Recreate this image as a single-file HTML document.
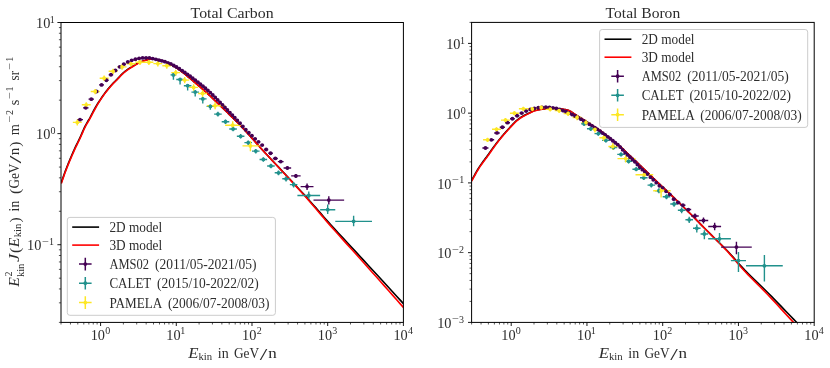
<!DOCTYPE html>
<html lang="en"><head><meta charset="utf-8"><title>Total Carbon / Total Boron</title>
<style>html,body{margin:0;padding:0;background:#fff}body{width:830px;height:368px;overflow:hidden;font-family:"Liberation Serif", serif}svg{display:block;will-change:transform}text{font-family:"Liberation Serif", serif;fill:#2d2d2d}</style>
</head><body>
<svg width="830" height="368" viewBox="0 0 830 368">
<rect width="830" height="368" fill="#fff"/>
<clipPath id="clipL"><rect x="61" y="22.5" width="342.4" height="299.9"/></clipPath>
<clipPath id="clipR"><rect x="471.6" y="22.4" width="342.6" height="300"/></clipPath>
<g clip-path="url(#clipL)">
<path d="M61.3 182.6 L61.75 181.29 L62.38 179.46 L63.12 177.3 L63.92 174.99 L64.73 172.69 L65.5 170.6 L66.23 168.69 L66.96 166.82 L67.7 164.97 L68.45 163.13 L69.22 161.27 L70 159.4 L70.8 157.49 L71.63 155.54 L72.47 153.59 L73.31 151.66 L74.16 149.75 L75 147.9 L75.83 146.12 L76.67 144.41 L77.5 142.73 L78.33 141.06 L79.17 139.35 L80 137.6 L80.83 135.76 L81.67 133.84 L82.5 131.91 L83.33 129.99 L84.17 128.14 L85 126.4 L85.83 124.8 L86.67 123.31 L87.5 121.89 L88.33 120.5 L89.17 119.08 L90 117.6 L90.83 116.04 L91.67 114.43 L92.5 112.8 L93.33 111.18 L94.17 109.6 L95 108.1 L95.82 106.69 L96.63 105.34 L97.44 104.04 L98.26 102.75 L99.11 101.44 L100 100.1 L100.94 98.7 L101.91 97.27 L102.91 95.82 L103.93 94.39 L104.97 92.97 L106 91.6 L107.07 90.24 L108.18 88.88 L109.3 87.54 L110.4 86.26 L111.44 85.07 L112.4 84 L113.23 83.1 L113.96 82.36 L114.63 81.71 L115.3 81.08 L116 80.4 L116.8 79.6 L117.7 78.65 L118.68 77.59 L119.69 76.49 L120.72 75.39 L121.73 74.34 L122.7 73.4 L123.6 72.59 L124.44 71.86 L125.27 71.19 L126.11 70.55 L127.01 69.89 L128 69.2 L129.12 68.44 L130.35 67.65 L131.63 66.84 L132.91 66.06 L134.12 65.34 L135.2 64.71 L136.13 64.17 L136.96 63.71 L137.72 63.31 L138.46 62.94 L139.2 62.59 L140 62.23 L140.85 61.87 L141.72 61.51 L142.6 61.16 L143.48 60.83 L144.35 60.54 L145.2 60.27 L146.02 60.04 L146.82 59.84 L147.61 59.66 L148.4 59.51 L149.19 59.39 L150 59.3 L150.82 59.24 L151.65 59.22 L152.49 59.23 L153.33 59.26 L154.16 59.32 L155 59.4 L155.83 59.51 L156.67 59.65 L157.5 59.81 L158.33 60 L159.17 60.19 L160 60.4 L160.82 60.61 L161.63 60.82 L162.44 61.04 L163.26 61.29 L164.11 61.57 L165 61.9 L165.94 62.27 L166.9 62.66 L167.9 63.09 L168.92 63.56 L169.95 64.06 L171 64.6 L172.07 65.18 L173.16 65.81 L174.27 66.47 L175.39 67.16 L176.5 67.87 L177.6 68.6 L178.68 69.35 L179.76 70.13 L180.83 70.93 L181.9 71.75 L182.95 72.57 L184 73.4 L185.03 74.23 L186.05 75.07 L187.06 75.92 L188.06 76.77 L189.08 77.63 L190.1 78.5 L191.14 79.37 L192.19 80.25 L193.24 81.13 L194.29 82.02 L195.35 82.91 L196.4 83.8 L197.45 84.69 L198.5 85.59 L199.56 86.48 L200.61 87.38 L201.66 88.29 L202.7 89.2 L203.74 90.12 L204.78 91.04 L205.81 91.97 L206.84 92.9 L207.87 93.85 L208.9 94.8 L209.92 95.76 L210.93 96.74 L211.94 97.72 L212.96 98.71 L213.97 99.71 L215 100.7 L216.04 101.69 L217.09 102.69 L218.14 103.69 L219.19 104.69 L220.25 105.69 L221.3 106.7 L222.35 107.71 L223.4 108.72 L224.45 109.74 L225.5 110.76 L226.55 111.78 L227.6 112.8 L228.65 113.83 L229.71 114.86 L230.76 115.9 L231.81 116.94 L232.86 117.97 L233.9 119 L234.88 119.97 L235.8 120.86 L236.72 121.76 L237.69 122.71 L238.76 123.81 L240 125.1 L241.41 126.6 L242.95 128.26 L244.6 130.06 L246.34 131.96 L248.14 133.95 L250 136 L251.9 138.12 L253.86 140.33 L255.89 142.63 L258 145 L260.2 147.46 L262.5 150 L264.97 152.68 L267.63 155.53 L270.37 158.46 L273.12 161.38 L275.79 164.22 L278.3 166.9 L280.63 169.39 L282.86 171.75 L285 174.03 L287.1 176.26 L289.19 178.49 L291.3 180.75 L293.41 183.01 L295.47 185.22 L297.53 187.43 L299.6 189.67 L301.72 191.97 L303.9 194.36 L306.18 196.88 L308.53 199.51 L310.92 202.2 L313.33 204.91 L315.7 207.59 L318 210.19 L320.09 212.58 L321.97 214.76 L323.81 216.9 L325.81 219.21 L328.15 221.85 L331 225.03 L334.5 228.85 L338.51 233.2 L342.87 237.9 L347.37 242.74 L351.85 247.56 L356.1 252.15 L360.16 256.54 L364.17 260.88 L368.16 265.19 L372.11 269.48 L376.06 273.76 L380 278.04 L384.12 282.53 L388.46 287.26 L392.78 291.99 L396.86 296.45 L400.48 300.4 L403.4 303.6 L405.55 305.95 L407.09 307.64 L408.16 308.82 L408.91 309.65 L409.48 310.28 L410 310.85" fill="none" stroke="#000" stroke-width="1.6" stroke-linejoin="round"/>
<path d="M61.3 183.5 L61.75 182.19 L62.38 180.36 L63.12 178.2 L63.92 175.89 L64.73 173.59 L65.5 171.5 L66.23 169.59 L66.96 167.72 L67.7 165.87 L68.45 164.03 L69.22 162.17 L70 160.3 L70.8 158.39 L71.63 156.44 L72.47 154.49 L73.31 152.56 L74.16 150.65 L75 148.8 L75.83 147.02 L76.67 145.31 L77.5 143.63 L78.33 141.96 L79.17 140.25 L80 138.5 L80.83 136.66 L81.67 134.74 L82.5 132.81 L83.33 130.89 L84.17 129.04 L85 127.3 L85.83 125.7 L86.67 124.21 L87.5 122.79 L88.33 121.4 L89.17 119.98 L90 118.5 L90.83 116.95 L91.67 115.35 L92.5 113.73 L93.33 112.12 L94.17 110.53 L95 109 L95.82 107.53 L96.63 106.09 L97.44 104.69 L98.26 103.3 L99.11 101.91 L100 100.5 L100.94 99.07 L101.91 97.63 L102.91 96.19 L103.93 94.77 L104.97 93.36 L106 92 L107.07 90.64 L108.18 89.28 L109.3 87.94 L110.4 86.66 L111.44 85.47 L112.4 84.4 L113.23 83.5 L113.96 82.76 L114.63 82.11 L115.3 81.48 L116 80.8 L116.8 80 L117.7 79.05 L118.68 77.99 L119.69 76.89 L120.72 75.79 L121.73 74.74 L122.7 73.8 L123.6 72.99 L124.44 72.26 L125.27 71.59 L126.11 70.95 L127.01 70.29 L128 69.6 L129.12 68.85 L130.35 68.05 L131.63 67.25 L132.91 66.47 L134.12 65.74 L135.2 65.1 L136.13 64.55 L136.96 64.07 L137.72 63.65 L138.46 63.26 L139.2 62.88 L140 62.5 L140.85 62.11 L141.72 61.73 L142.6 61.36 L143.48 61.01 L144.35 60.69 L145.2 60.4 L146.02 60.14 L146.82 59.91 L147.61 59.71 L148.4 59.54 L149.19 59.4 L150 59.3 L150.82 59.24 L151.65 59.21 L152.49 59.22 L153.33 59.26 L154.16 59.32 L155 59.4 L155.83 59.51 L156.67 59.65 L157.5 59.81 L158.33 60 L159.17 60.19 L160 60.4 L160.82 60.61 L161.63 60.82 L162.44 61.04 L163.26 61.29 L164.11 61.57 L165 61.9 L165.94 62.27 L166.9 62.66 L167.9 63.09 L168.92 63.56 L169.95 64.06 L171 64.6 L172.07 65.18 L173.16 65.81 L174.27 66.47 L175.39 67.16 L176.5 67.87 L177.6 68.6 L178.68 69.35 L179.76 70.13 L180.83 70.93 L181.9 71.75 L182.95 72.57 L184 73.4 L185.03 74.23 L186.05 75.07 L187.06 75.92 L188.06 76.77 L189.08 77.63 L190.1 78.5 L191.14 79.37 L192.19 80.25 L193.24 81.13 L194.29 82.02 L195.35 82.91 L196.4 83.8 L197.45 84.69 L198.5 85.59 L199.56 86.48 L200.61 87.38 L201.66 88.29 L202.7 89.2 L203.74 90.12 L204.78 91.04 L205.81 91.97 L206.84 92.9 L207.87 93.85 L208.9 94.8 L209.92 95.76 L210.93 96.74 L211.94 97.72 L212.96 98.71 L213.97 99.71 L215 100.7 L216.04 101.69 L217.09 102.69 L218.14 103.69 L219.19 104.69 L220.25 105.69 L221.3 106.7 L222.35 107.71 L223.4 108.72 L224.45 109.74 L225.5 110.76 L226.55 111.78 L227.6 112.8 L228.65 113.83 L229.71 114.86 L230.76 115.9 L231.81 116.94 L232.86 117.97 L233.9 119 L234.88 119.97 L235.8 120.86 L236.72 121.76 L237.69 122.71 L238.76 123.81 L240 125.1 L241.41 126.6 L242.95 128.26 L244.6 130.06 L246.34 131.96 L248.14 133.95 L250 136 L251.9 138.12 L253.86 140.33 L255.89 142.62 L258 145 L260.2 147.46 L262.5 150 L264.97 152.69 L267.63 155.55 L270.37 158.49 L273.12 161.44 L275.79 164.3 L278.3 167 L280.63 169.52 L282.86 171.92 L285 174.24 L287.1 176.52 L289.19 178.8 L291.3 181.1 L293.41 183.4 L295.47 185.66 L297.53 187.92 L299.6 190.2 L301.72 192.55 L303.9 195 L306.18 197.58 L308.53 200.27 L310.92 203.02 L313.33 205.79 L315.7 208.53 L318 211.2 L320.09 213.64 L321.97 215.87 L323.81 218.07 L325.81 220.43 L328.15 223.14 L331 226.4 L334.5 230.33 L338.51 234.8 L342.87 239.63 L347.37 244.62 L351.85 249.57 L356.1 254.3 L360.16 258.82 L364.17 263.3 L368.16 267.74 L372.11 272.17 L376.06 276.58 L380 281 L384.12 285.64 L388.46 290.52 L392.78 295.4 L396.86 300.01 L400.48 304.1 L403.4 307.4 L405.55 309.83 L407.09 311.58 L408.16 312.8 L408.91 313.66 L409.48 314.3 L410 314.9" fill="none" stroke="#f00" stroke-width="1.6" stroke-linejoin="round"/>
<path d="M77.04 119.66H82.96M80.02 118.76V120.56M82.96 107.85H88.55M85.78 106.95V108.75M88.55 99.13H94M91.29 98.23V100.03M94 91.5H99.09M96.56 90.6V92.4M99.09 84.88H104M101.56 83.98V85.78M104 80.22H108.7M106.37 79.32V81.12M108.7 74.75H113.19M110.96 73.85V75.65M113.19 70.51H117.56M115.39 69.61V71.41M117.56 66.84H121.79M119.69 65.94V67.74M121.79 64.18H125.87M123.84 63.28V65.08M125.87 61.89H129.78M127.83 60.99V62.79M129.78 60.3H133.59M131.69 59.4V61.2M133.59 59.24H137.29M135.45 58.34V60.14M137.29 58.4H140.86M139.08 57.5V59.3M140.86 57.91H144.36M142.62 57.01V58.81M144.36 57.8H147.75M146.06 56.9V58.7M147.75 57.94H151.05M149.41 57.04V58.84M151.05 58.55H154.37M152.72 57.65V59.45M154.37 59.3H157.4M155.89 58.4V60.2M157.4 60.08H160.43M158.92 59.18V60.98M160.43 60.86H163.46M161.95 59.96V61.76M163.46 61.69H166.45M164.96 60.79V62.59M166.45 62.82H169.4M167.93 61.92V63.72M169.4 63.94H172.3M170.85 63.04V64.84M172.3 65.48H175.13M173.72 64.58V66.38M175.13 67.01H177.89M176.51 66.11V67.91M177.89 68.73H180.73M179.32 67.83V69.63M180.73 70.56H183.48M182.11 69.66V71.46M183.48 72.39H186.14M184.81 71.49V73.29M186.14 74.35H188.82M187.48 73.45V75.25M188.82 76.28H191.41M190.11 75.38V77.18M191.41 78.18H194M192.7 77.28V79.08M194 80.08H196.58M195.29 79.18V80.98M196.58 82.05H199.13M197.85 81.15V82.95M199.13 84.07H201.66M200.39 83.17V84.97M201.66 86.07H204.14M202.9 85.17V86.97M204.14 88.2H206.65M205.4 87.3V89.1M206.65 90.32H209.1M207.87 89.42V91.22M209.1 92.6H211.55M210.32 91.7V93.5M211.55 95.01H213.99M212.77 94.11V95.91M213.99 97.42H216.45M215.22 96.52V98.32M216.45 99.91H218.88M217.66 99.01V100.81M218.88 102.37H221.31M220.09 101.47V103.27M221.31 104.87H223.72M222.51 103.97V105.77M223.72 107.41H226.15M224.94 106.51V108.31M226.15 109.96H228.59M227.37 109.06V110.86M228.59 112.55H231.16M229.87 111.65V113.45M231.16 115.11H233.55M232.36 114.21V116.01M233.55 117.65H236.05M234.8 116.75V118.55M236.05 120.35H238.61M237.33 119.45V121.25M238.61 123.24H241.45M240.03 122.34V124.14M241.45 126.46H244.27M242.86 125.56V127.36M244.27 129.76H247.25M245.76 128.86V130.66M247.25 132.79H250.33M248.79 131.89V133.69M250.33 135.69H253.46M251.89 134.79V136.59M253.46 138.8H256.75M255.1 137.9V139.7M256.75 141.86H260.25M258.5 140.96V142.76M260.25 145.08H264.11M262.18 144.18V145.98M264.11 149.48H268.27M266.19 148.58V150.38M268.27 153.26H272.85M270.56 152.36V154.16M272.85 158.44H277.85M275.35 157.54V159.34M277.85 161.62H283.6M280.73 160.42V162.82M283.6 167.97H291.15M287.38 166.47V169.47M291.15 175.89H300.63M295.89 173.89V177.99M300.63 186.6H313.49M307.06 183.6V189.9M313.49 200.11H344.14M328.82 196.31V204.41" stroke="#440154" stroke-width="1.4" fill="none"/>
<path d="M170.53 74.9H176.29M173.41 73.3V79.8M176.29 79.5H183.86M180.07 77.9V84.4M183.86 85.7H191.43M187.64 84V90.6M191.43 92.1H199M195.21 90.1V96.6M199 98.9H206.57M202.78 97V103.5M206.57 106.4H214.14M210.35 104.5V109.8M214.14 114.1H221.71M217.93 111.7V116.6M221.71 121.7H229.28M225.5 119.5V124M229.28 128.95H236.85M233.07 126.75V131.25M236.85 136.3H244.42M240.64 134.1V138.6M244.42 142.6H251.99M248.21 140.4V144.9M251.99 151.1H259.56M255.78 148.9V153.4M259.56 159.45H267.13M263.35 157.25V161.75M267.13 166H274.7M270.92 163.8V168.3M274.7 172.8H282.27M278.49 170.5V175.2M282.27 178.8H289.84M286.06 176.3V181.4M289.84 184.65H297.41M293.63 181.95V187.45M297.41 195.5H320.13M308.77 191.5V198.9M320.13 209.7H335.27M327.7 204.4V213.9M335.27 221.35H371.98M353.62 215.75V226.35" stroke="#21918c" stroke-width="1.4" fill="none"/>
<path d="M72.83 122.4H81.77M77.3 119.6V125.4M81.78 104.8H90.72M86.25 102.2V107.6M90.72 91.5H99.67M95.2 88.9V94.3M99.67 78.2H108.62M104.15 75.6V81M108.62 71.3H117.57M113.1 68.7V74.1M117.58 66.9H126.52M122.05 64.3V69.7M126.53 63.8H135.47M131 61.2V66.6M135.47 62.3H144.42M139.95 59.7V65.1M144.42 62.3H153.37M148.9 59.7V65.1M153.38 63.6H162.32M157.85 61V66.4M162.33 65.7H171.28M166.8 62.9V68.7M171.28 72.6H180.22M175.75 69.8V75.6M180.22 80.1H189.17M184.7 77.1V83.3M189.17 87.4H198.12M193.65 84.2V90.8M198.12 93.5H207.07M202.6 90.1V97.1M207.1 105.7H225.1M215.1 102.3V109.3M225.1 125.2H240.8M232.7 121.2V129.6M242.5 145.9H259.5M250.4 141.1V151.3" stroke="#fde725" stroke-width="1.4" fill="none"/>
<path d="M78.1 119.66a1.92 1.92 0 1 0 3.84 0a1.92 1.92 0 1 0 -3.84 0zM83.86 107.85a1.92 1.92 0 1 0 3.84 0a1.92 1.92 0 1 0 -3.84 0zM89.37 99.13a1.92 1.92 0 1 0 3.84 0a1.92 1.92 0 1 0 -3.84 0zM94.64 91.5a1.92 1.92 0 1 0 3.84 0a1.92 1.92 0 1 0 -3.84 0zM99.64 84.88a1.92 1.92 0 1 0 3.84 0a1.92 1.92 0 1 0 -3.84 0zM104.45 80.22a1.92 1.92 0 1 0 3.84 0a1.92 1.92 0 1 0 -3.84 0zM109.04 74.75a1.92 1.92 0 1 0 3.84 0a1.92 1.92 0 1 0 -3.84 0zM113.47 70.51a1.92 1.92 0 1 0 3.84 0a1.92 1.92 0 1 0 -3.84 0zM117.77 66.84a1.92 1.92 0 1 0 3.84 0a1.92 1.92 0 1 0 -3.84 0zM121.92 64.18a1.92 1.92 0 1 0 3.84 0a1.92 1.92 0 1 0 -3.84 0zM125.91 61.89a1.92 1.92 0 1 0 3.84 0a1.92 1.92 0 1 0 -3.84 0zM129.77 60.3a1.92 1.92 0 1 0 3.84 0a1.92 1.92 0 1 0 -3.84 0zM133.53 59.24a1.92 1.92 0 1 0 3.84 0a1.92 1.92 0 1 0 -3.84 0zM137.16 58.4a1.92 1.92 0 1 0 3.84 0a1.92 1.92 0 1 0 -3.84 0zM140.7 57.91a1.92 1.92 0 1 0 3.84 0a1.92 1.92 0 1 0 -3.84 0zM144.14 57.8a1.92 1.92 0 1 0 3.84 0a1.92 1.92 0 1 0 -3.84 0zM147.49 57.94a1.92 1.92 0 1 0 3.84 0a1.92 1.92 0 1 0 -3.84 0zM150.8 58.55a1.92 1.92 0 1 0 3.84 0a1.92 1.92 0 1 0 -3.84 0zM153.97 59.3a1.92 1.92 0 1 0 3.84 0a1.92 1.92 0 1 0 -3.84 0zM157 60.08a1.92 1.92 0 1 0 3.84 0a1.92 1.92 0 1 0 -3.84 0zM160.03 60.86a1.92 1.92 0 1 0 3.84 0a1.92 1.92 0 1 0 -3.84 0zM163.04 61.69a1.92 1.92 0 1 0 3.84 0a1.92 1.92 0 1 0 -3.84 0zM166.01 62.82a1.92 1.92 0 1 0 3.84 0a1.92 1.92 0 1 0 -3.84 0zM168.93 63.94a1.92 1.92 0 1 0 3.84 0a1.92 1.92 0 1 0 -3.84 0zM171.8 65.48a1.92 1.92 0 1 0 3.84 0a1.92 1.92 0 1 0 -3.84 0zM174.59 67.01a1.92 1.92 0 1 0 3.84 0a1.92 1.92 0 1 0 -3.84 0zM177.4 68.73a1.92 1.92 0 1 0 3.84 0a1.92 1.92 0 1 0 -3.84 0zM180.19 70.56a1.92 1.92 0 1 0 3.84 0a1.92 1.92 0 1 0 -3.84 0zM182.89 72.39a1.92 1.92 0 1 0 3.84 0a1.92 1.92 0 1 0 -3.84 0zM185.56 74.35a1.92 1.92 0 1 0 3.84 0a1.92 1.92 0 1 0 -3.84 0zM188.19 76.28a1.92 1.92 0 1 0 3.84 0a1.92 1.92 0 1 0 -3.84 0zM190.78 78.18a1.92 1.92 0 1 0 3.84 0a1.92 1.92 0 1 0 -3.84 0zM193.37 80.08a1.92 1.92 0 1 0 3.84 0a1.92 1.92 0 1 0 -3.84 0zM195.93 82.05a1.92 1.92 0 1 0 3.84 0a1.92 1.92 0 1 0 -3.84 0zM198.47 84.07a1.92 1.92 0 1 0 3.84 0a1.92 1.92 0 1 0 -3.84 0zM200.98 86.07a1.92 1.92 0 1 0 3.84 0a1.92 1.92 0 1 0 -3.84 0zM203.48 88.2a1.92 1.92 0 1 0 3.84 0a1.92 1.92 0 1 0 -3.84 0zM205.95 90.32a1.92 1.92 0 1 0 3.84 0a1.92 1.92 0 1 0 -3.84 0zM208.4 92.6a1.92 1.92 0 1 0 3.84 0a1.92 1.92 0 1 0 -3.84 0zM210.85 95.01a1.92 1.92 0 1 0 3.84 0a1.92 1.92 0 1 0 -3.84 0zM213.3 97.42a1.92 1.92 0 1 0 3.84 0a1.92 1.92 0 1 0 -3.84 0zM215.74 99.91a1.92 1.92 0 1 0 3.84 0a1.92 1.92 0 1 0 -3.84 0zM218.17 102.37a1.92 1.92 0 1 0 3.84 0a1.92 1.92 0 1 0 -3.84 0zM220.59 104.87a1.92 1.92 0 1 0 3.84 0a1.92 1.92 0 1 0 -3.84 0zM223.02 107.41a1.92 1.92 0 1 0 3.84 0a1.92 1.92 0 1 0 -3.84 0zM225.45 109.96a1.92 1.92 0 1 0 3.84 0a1.92 1.92 0 1 0 -3.84 0zM227.95 112.55a1.92 1.92 0 1 0 3.84 0a1.92 1.92 0 1 0 -3.84 0zM230.44 115.11a1.92 1.92 0 1 0 3.84 0a1.92 1.92 0 1 0 -3.84 0zM232.88 117.65a1.92 1.92 0 1 0 3.84 0a1.92 1.92 0 1 0 -3.84 0zM235.41 120.35a1.92 1.92 0 1 0 3.84 0a1.92 1.92 0 1 0 -3.84 0zM238.11 123.24a1.92 1.92 0 1 0 3.84 0a1.92 1.92 0 1 0 -3.84 0zM240.94 126.46a1.92 1.92 0 1 0 3.84 0a1.92 1.92 0 1 0 -3.84 0zM243.84 129.76a1.92 1.92 0 1 0 3.84 0a1.92 1.92 0 1 0 -3.84 0zM246.87 132.79a1.92 1.92 0 1 0 3.84 0a1.92 1.92 0 1 0 -3.84 0zM249.97 135.69a1.92 1.92 0 1 0 3.84 0a1.92 1.92 0 1 0 -3.84 0zM253.18 138.8a1.92 1.92 0 1 0 3.84 0a1.92 1.92 0 1 0 -3.84 0zM256.58 141.86a1.92 1.92 0 1 0 3.84 0a1.92 1.92 0 1 0 -3.84 0zM260.26 145.08a1.92 1.92 0 1 0 3.84 0a1.92 1.92 0 1 0 -3.84 0zM264.27 149.48a1.92 1.92 0 1 0 3.84 0a1.92 1.92 0 1 0 -3.84 0zM268.64 153.26a1.92 1.92 0 1 0 3.84 0a1.92 1.92 0 1 0 -3.84 0zM273.43 158.44a1.92 1.92 0 1 0 3.84 0a1.92 1.92 0 1 0 -3.84 0zM278.81 161.62a1.92 1.92 0 1 0 3.84 0a1.92 1.92 0 1 0 -3.84 0zM285.46 167.97a1.92 1.92 0 1 0 3.84 0a1.92 1.92 0 1 0 -3.84 0zM293.97 175.89a1.92 1.92 0 1 0 3.84 0a1.92 1.92 0 1 0 -3.84 0zM305.14 186.6a1.92 1.92 0 1 0 3.84 0a1.92 1.92 0 1 0 -3.84 0zM326.9 200.11a1.92 1.92 0 1 0 3.84 0a1.92 1.92 0 1 0 -3.84 0z" fill="#440154"/>
<path d="M171.49 74.9a1.92 1.92 0 1 0 3.84 0a1.92 1.92 0 1 0 -3.84 0zM178.15 79.5a1.92 1.92 0 1 0 3.84 0a1.92 1.92 0 1 0 -3.84 0zM185.72 85.7a1.92 1.92 0 1 0 3.84 0a1.92 1.92 0 1 0 -3.84 0zM193.29 92.1a1.92 1.92 0 1 0 3.84 0a1.92 1.92 0 1 0 -3.84 0zM200.86 98.9a1.92 1.92 0 1 0 3.84 0a1.92 1.92 0 1 0 -3.84 0zM208.43 106.4a1.92 1.92 0 1 0 3.84 0a1.92 1.92 0 1 0 -3.84 0zM216.01 114.1a1.92 1.92 0 1 0 3.84 0a1.92 1.92 0 1 0 -3.84 0zM223.58 121.7a1.92 1.92 0 1 0 3.84 0a1.92 1.92 0 1 0 -3.84 0zM231.15 128.95a1.92 1.92 0 1 0 3.84 0a1.92 1.92 0 1 0 -3.84 0zM238.72 136.3a1.92 1.92 0 1 0 3.84 0a1.92 1.92 0 1 0 -3.84 0zM246.29 142.6a1.92 1.92 0 1 0 3.84 0a1.92 1.92 0 1 0 -3.84 0zM253.86 151.1a1.92 1.92 0 1 0 3.84 0a1.92 1.92 0 1 0 -3.84 0zM261.43 159.45a1.92 1.92 0 1 0 3.84 0a1.92 1.92 0 1 0 -3.84 0zM269 166a1.92 1.92 0 1 0 3.84 0a1.92 1.92 0 1 0 -3.84 0zM276.57 172.8a1.92 1.92 0 1 0 3.84 0a1.92 1.92 0 1 0 -3.84 0zM284.14 178.8a1.92 1.92 0 1 0 3.84 0a1.92 1.92 0 1 0 -3.84 0zM291.71 184.65a1.92 1.92 0 1 0 3.84 0a1.92 1.92 0 1 0 -3.84 0zM306.85 195.5a1.92 1.92 0 1 0 3.84 0a1.92 1.92 0 1 0 -3.84 0zM325.78 209.7a1.92 1.92 0 1 0 3.84 0a1.92 1.92 0 1 0 -3.84 0zM351.7 221.35a1.92 1.92 0 1 0 3.84 0a1.92 1.92 0 1 0 -3.84 0z" fill="#21918c"/>
<path d="M75.38 122.4a1.92 1.92 0 1 0 3.84 0a1.92 1.92 0 1 0 -3.84 0zM84.33 104.8a1.92 1.92 0 1 0 3.84 0a1.92 1.92 0 1 0 -3.84 0zM93.28 91.5a1.92 1.92 0 1 0 3.84 0a1.92 1.92 0 1 0 -3.84 0zM102.23 78.2a1.92 1.92 0 1 0 3.84 0a1.92 1.92 0 1 0 -3.84 0zM111.18 71.3a1.92 1.92 0 1 0 3.84 0a1.92 1.92 0 1 0 -3.84 0zM120.13 66.9a1.92 1.92 0 1 0 3.84 0a1.92 1.92 0 1 0 -3.84 0zM129.08 63.8a1.92 1.92 0 1 0 3.84 0a1.92 1.92 0 1 0 -3.84 0zM138.03 62.3a1.92 1.92 0 1 0 3.84 0a1.92 1.92 0 1 0 -3.84 0zM146.98 62.3a1.92 1.92 0 1 0 3.84 0a1.92 1.92 0 1 0 -3.84 0zM155.93 63.6a1.92 1.92 0 1 0 3.84 0a1.92 1.92 0 1 0 -3.84 0zM164.88 65.7a1.92 1.92 0 1 0 3.84 0a1.92 1.92 0 1 0 -3.84 0zM173.83 72.6a1.92 1.92 0 1 0 3.84 0a1.92 1.92 0 1 0 -3.84 0zM182.78 80.1a1.92 1.92 0 1 0 3.84 0a1.92 1.92 0 1 0 -3.84 0zM191.73 87.4a1.92 1.92 0 1 0 3.84 0a1.92 1.92 0 1 0 -3.84 0zM200.68 93.5a1.92 1.92 0 1 0 3.84 0a1.92 1.92 0 1 0 -3.84 0zM213.18 105.7a1.92 1.92 0 1 0 3.84 0a1.92 1.92 0 1 0 -3.84 0zM230.78 125.2a1.92 1.92 0 1 0 3.84 0a1.92 1.92 0 1 0 -3.84 0zM248.48 145.9a1.92 1.92 0 1 0 3.84 0a1.92 1.92 0 1 0 -3.84 0z" fill="#fde725"/>
</g>
<path d="M100.58 322.4v3.6M176.29 322.4v3.6M251.99 322.4v3.6M327.7 322.4v3.6M403.4 322.4v3.6M61 244.73h-3.6M61 133.62h-3.6M61 22.5h-3.6" stroke="#000" stroke-width="0.9" fill="none"/>
<path d="M61 322.4v2.1M70.46 322.4v2.1M77.79 322.4v2.1M83.79 322.4v2.1M88.86 322.4v2.1M93.25 322.4v2.1M97.12 322.4v2.1M123.37 322.4v2.1M136.7 322.4v2.1M146.16 322.4v2.1M153.5 322.4v2.1M159.49 322.4v2.1M164.56 322.4v2.1M168.95 322.4v2.1M172.82 322.4v2.1M199.08 322.4v2.1M212.41 322.4v2.1M221.87 322.4v2.1M229.2 322.4v2.1M235.2 322.4v2.1M240.27 322.4v2.1M244.66 322.4v2.1M248.53 322.4v2.1M274.78 322.4v2.1M288.11 322.4v2.1M297.57 322.4v2.1M304.91 322.4v2.1M310.9 322.4v2.1M315.97 322.4v2.1M320.36 322.4v2.1M324.23 322.4v2.1M350.49 322.4v2.1M363.82 322.4v2.1M373.27 322.4v2.1M380.61 322.4v2.1M386.61 322.4v2.1M391.67 322.4v2.1M396.06 322.4v2.1M399.94 322.4v2.1M61 322.4h-2.1M61 302.83h-2.1M61 288.95h-2.1M61 278.18h-2.1M61 269.38h-2.1M61 261.95h-2.1M61 255.5h-2.1M61 249.82h-2.1M61 211.28h-2.1M61 191.72h-2.1M61 177.83h-2.1M61 167.07h-2.1M61 158.27h-2.1M61 150.83h-2.1M61 144.38h-2.1M61 138.7h-2.1M61 100.17h-2.1M61 80.6h-2.1M61 66.72h-2.1M61 55.95h-2.1M61 47.15h-2.1M61 39.71h-2.1M61 33.27h-2.1M61 27.58h-2.1" stroke="#000" stroke-width="0.65" fill="none"/>
<rect x="61" y="22.5" width="342.4" height="299.9" fill="none" stroke="#000" stroke-width="1"/>
<rect x="67.3" y="217.4" width="208.1" height="97.9" rx="2.6" ry="2.6" fill="#fff" fill-opacity="0.8" stroke="#ccc" stroke-width="1"/>
<path d="M72.2 227.1H99.1" stroke="#000" stroke-width="1.6"/>
<path d="M72.2 245.1H99.1" stroke="#f00" stroke-width="1.6"/>
<path d="M79 264.1H91.6M85.3 257.8V270.4" stroke="#440154" stroke-width="1.5" fill="none"/>
<circle cx="85.3" cy="264.1" r="1.85" fill="#440154"/>
<path d="M79 283.2H91.6M85.3 276.9V289.5" stroke="#21918c" stroke-width="1.5" fill="none"/>
<circle cx="85.3" cy="283.2" r="1.85" fill="#21918c"/>
<path d="M79 302.6H91.6M85.3 296.3V308.9" stroke="#fde725" stroke-width="1.5" fill="none"/>
<circle cx="85.3" cy="302.6" r="1.85" fill="#fde725"/>
<text x="109.4" y="232.1" font-size="14.2" textLength="52.8" lengthAdjust="spacingAndGlyphs">2D model</text>
<text x="109.4" y="250.1" font-size="14.2" textLength="52.8" lengthAdjust="spacingAndGlyphs">3D model</text>
<text x="109.4" y="269.1" font-size="14.2" textLength="39.6" lengthAdjust="spacingAndGlyphs">AMS02</text>
<text x="154.9" y="269.1" font-size="14.2" textLength="101.6" lengthAdjust="spacingAndGlyphs">(2011/05-2021/05)</text>
<text x="109.4" y="288.2" font-size="14.2" textLength="41.9" lengthAdjust="spacingAndGlyphs">CALET</text>
<text x="157.1" y="288.2" font-size="14.2" textLength="101.6" lengthAdjust="spacingAndGlyphs">(2015/10-2022/02)</text>
<text x="109.4" y="307.6" font-size="14.2" textLength="53.0" lengthAdjust="spacingAndGlyphs">PAMELA</text>
<text x="167.9" y="307.6" font-size="14.2" textLength="101.6" lengthAdjust="spacingAndGlyphs">(2006/07-2008/03)</text>
<g clip-path="url(#clipR)">
<path d="M471.7 180.3 L472.2 179.39 L472.89 178.11 L473.7 176.61 L474.57 175.01 L475.43 173.46 L476.2 172.1 L476.89 170.91 L477.57 169.78 L478.23 168.69 L478.88 167.64 L479.53 166.62 L480.2 165.6 L480.88 164.6 L481.56 163.63 L482.24 162.69 L482.93 161.76 L483.62 160.83 L484.3 159.9 L484.98 158.98 L485.67 158.06 L486.36 157.16 L487.04 156.25 L487.72 155.33 L488.4 154.4 L489.05 153.47 L489.67 152.56 L490.29 151.63 L490.94 150.68 L491.63 149.67 L492.4 148.6 L493.26 147.43 L494.2 146.17 L495.19 144.87 L496.21 143.55 L497.22 142.25 L498.2 141 L499.15 139.81 L500.09 138.64 L501.03 137.5 L501.97 136.37 L502.93 135.24 L503.9 134.1 L504.89 132.96 L505.89 131.82 L506.91 130.68 L507.93 129.55 L508.96 128.42 L510 127.3 L511.05 126.16 L512.13 125 L513.21 123.84 L514.29 122.72 L515.35 121.66 L516.4 120.7 L517.42 119.84 L518.42 119.06 L519.41 118.34 L520.39 117.67 L521.39 117.03 L522.4 116.4 L523.43 115.8 L524.48 115.23 L525.54 114.7 L526.6 114.19 L527.65 113.69 L528.7 113.19 L529.74 112.69 L530.77 112.18 L531.8 111.69 L532.83 111.23 L533.86 110.81 L534.9 110.45 L535.94 110.16 L536.99 109.94 L538.04 109.75 L539.1 109.6 L540.15 109.46 L541.2 109.31 L542.25 109.14 L543.3 108.99 L544.36 108.84 L545.41 108.71 L546.46 108.6 L547.5 108.5 L548.54 108.42 L549.57 108.36 L550.6 108.32 L551.63 108.29 L552.66 108.29 L553.7 108.3 L554.75 108.34 L555.8 108.4 L556.85 108.47 L557.9 108.57 L558.95 108.68 L560 108.8 L561.07 108.93 L562.16 109.09 L563.26 109.25 L564.31 109.43 L565.31 109.61 L566.2 109.8 L566.96 109.98 L567.6 110.14 L568.17 110.31 L568.73 110.51 L569.32 110.76 L570 111.1 L570.76 111.53 L571.56 112.03 L572.4 112.59 L573.27 113.18 L574.17 113.79 L575.1 114.4 L576.07 115.01 L577.08 115.65 L578.12 116.31 L579.19 116.97 L580.25 117.64 L581.3 118.3 L582.34 118.96 L583.39 119.62 L584.44 120.29 L585.5 120.96 L586.55 121.63 L587.6 122.3 L588.65 122.98 L589.7 123.66 L590.76 124.34 L591.81 125.03 L592.86 125.72 L593.9 126.4 L594.94 127.08 L595.97 127.74 L597 128.41 L598.03 129.09 L599.06 129.78 L600.1 130.5 L601.15 131.25 L602.2 132.01 L603.25 132.79 L604.3 133.59 L605.35 134.39 L606.4 135.2 L607.44 136.01 L608.47 136.84 L609.5 137.68 L610.53 138.51 L611.56 139.36 L612.6 140.2 L613.65 141.04 L614.7 141.87 L615.75 142.7 L616.8 143.54 L617.85 144.41 L618.9 145.3 L619.89 146.18 L620.81 147.03 L621.74 147.9 L622.72 148.84 L623.82 149.89 L625.1 151.1 L626.65 152.56 L628.45 154.25 L630.36 156.05 L632.27 157.85 L634.06 159.54 L635.6 161 L636.85 162.2 L637.91 163.21 L638.84 164.12 L639.72 164.97 L640.62 165.85 L641.6 166.8 L642.65 167.82 L643.7 168.84 L644.77 169.88 L645.87 170.94 L647.01 172.05 L648.2 173.2 L649.44 174.4 L650.73 175.64 L652.06 176.93 L653.43 178.24 L654.84 179.6 L656.3 181 L657.88 182.5 L659.58 184.12 L661.33 185.78 L663.03 187.39 L664.62 188.89 L666 190.2 L667.1 191.24 L667.96 192.05 L668.71 192.74 L669.44 193.43 L670.27 194.21 L671.3 195.2 L672.53 196.38 L673.86 197.66 L675.29 199.04 L676.81 200.51 L678.42 202.06 L680.1 203.7 L681.94 205.49 L683.95 207.46 L686.04 209.51 L688.13 211.56 L690.11 213.52 L691.9 215.3 L693.42 216.83 L694.73 218.17 L695.94 219.42 L697.15 220.68 L698.47 222.04 L700 223.6 L701.74 225.36 L703.59 227.23 L705.55 229.2 L707.61 231.27 L709.76 233.43 L712 235.66 L714.33 237.95 L716.77 240.31 L719.29 242.76 L721.9 245.3 L724.57 247.98 L727.3 250.79 L730.06 253.76 L732.85 256.89 L735.71 260.14 L738.66 263.48 L741.75 266.89 L745 270.33 L748.42 273.78 L751.98 277.27 L755.67 280.81 L759.49 284.46 L763.4 288.25 L767.4 292.22 L771.76 296.65 L776.55 301.57 L781.44 306.64 L786.11 311.5 L790.24 315.79 L793.5 319.17 L795.79 321.53 L797.36 323.15 L798.38 324.2 L799.04 324.88 L799.52 325.38 L800 325.87" fill="none" stroke="#000" stroke-width="1.6" stroke-linejoin="round"/>
<path d="M471.7 181.1 L472.2 180.19 L472.89 178.91 L473.7 177.41 L474.57 175.81 L475.43 174.26 L476.2 172.9 L476.89 171.71 L477.57 170.58 L478.23 169.49 L478.88 168.44 L479.53 167.42 L480.2 166.4 L480.88 165.4 L481.56 164.43 L482.24 163.49 L482.93 162.56 L483.62 161.63 L484.3 160.7 L484.98 159.78 L485.67 158.86 L486.36 157.96 L487.04 157.05 L487.72 156.13 L488.4 155.2 L489.05 154.28 L489.67 153.37 L490.29 152.45 L490.94 151.5 L491.63 150.49 L492.4 149.4 L493.26 148.19 L494.2 146.89 L495.19 145.52 L496.21 144.14 L497.22 142.78 L498.2 141.5 L499.15 140.29 L500.09 139.12 L501.03 137.98 L501.97 136.86 L502.93 135.73 L503.9 134.6 L504.89 133.46 L505.89 132.32 L506.91 131.18 L507.93 130.05 L508.96 128.92 L510 127.8 L511.05 126.66 L512.13 125.5 L513.21 124.34 L514.29 123.22 L515.35 122.16 L516.4 121.2 L517.42 120.34 L518.42 119.56 L519.41 118.84 L520.39 118.17 L521.39 117.53 L522.4 116.9 L523.43 116.29 L524.48 115.71 L525.54 115.16 L526.6 114.63 L527.65 114.12 L528.7 113.6 L529.74 113.08 L530.77 112.54 L531.8 112.03 L532.83 111.53 L533.86 111.09 L534.9 110.7 L535.94 110.39 L536.99 110.13 L538.04 109.92 L539.1 109.74 L540.15 109.58 L541.2 109.4 L542.25 109.22 L543.3 109.04 L544.36 108.88 L545.41 108.73 L546.46 108.6 L547.5 108.5 L548.54 108.42 L549.57 108.36 L550.6 108.31 L551.63 108.29 L552.66 108.28 L553.7 108.3 L554.75 108.34 L555.8 108.4 L556.85 108.47 L557.9 108.57 L558.95 108.68 L560 108.8 L561.07 108.93 L562.16 109.09 L563.26 109.25 L564.31 109.43 L565.31 109.61 L566.2 109.8 L566.96 109.98 L567.6 110.14 L568.17 110.31 L568.73 110.51 L569.32 110.76 L570 111.1 L570.76 111.53 L571.56 112.03 L572.4 112.59 L573.27 113.18 L574.17 113.79 L575.1 114.4 L576.07 115.01 L577.08 115.65 L578.12 116.31 L579.19 116.97 L580.25 117.64 L581.3 118.3 L582.34 118.96 L583.39 119.62 L584.44 120.29 L585.5 120.96 L586.55 121.63 L587.6 122.3 L588.65 122.98 L589.7 123.66 L590.76 124.34 L591.81 125.03 L592.86 125.72 L593.9 126.4 L594.94 127.08 L595.97 127.74 L597 128.41 L598.03 129.09 L599.06 129.78 L600.1 130.5 L601.15 131.25 L602.2 132.01 L603.25 132.79 L604.3 133.59 L605.35 134.39 L606.4 135.2 L607.44 136.01 L608.47 136.84 L609.5 137.68 L610.53 138.51 L611.56 139.36 L612.6 140.2 L613.65 141.04 L614.7 141.87 L615.75 142.7 L616.8 143.54 L617.85 144.41 L618.9 145.3 L619.89 146.18 L620.81 147.03 L621.74 147.9 L622.72 148.84 L623.82 149.89 L625.1 151.1 L626.65 152.56 L628.45 154.25 L630.36 156.05 L632.27 157.85 L634.06 159.54 L635.6 161 L636.85 162.2 L637.91 163.21 L638.84 164.12 L639.72 164.97 L640.62 165.85 L641.6 166.8 L642.65 167.82 L643.7 168.84 L644.77 169.88 L645.87 170.94 L647.01 172.05 L648.2 173.2 L649.44 174.4 L650.73 175.64 L652.06 176.93 L653.43 178.24 L654.84 179.6 L656.3 181 L657.88 182.5 L659.58 184.12 L661.33 185.78 L663.03 187.39 L664.62 188.89 L666 190.2 L667.1 191.24 L667.96 192.05 L668.71 192.74 L669.44 193.43 L670.27 194.21 L671.3 195.2 L672.53 196.38 L673.86 197.66 L675.29 199.04 L676.81 200.51 L678.42 202.06 L680.1 203.7 L681.94 205.49 L683.95 207.46 L686.04 209.51 L688.13 211.56 L690.11 213.52 L691.9 215.3 L693.42 216.83 L694.73 218.17 L695.94 219.42 L697.15 220.67 L698.47 222.03 L700 223.6 L701.74 225.36 L703.59 227.22 L705.55 229.19 L707.61 231.27 L709.76 233.44 L712 235.7 L714.33 238.04 L716.77 240.47 L719.29 242.99 L721.9 245.63 L724.57 248.39 L727.3 251.3 L730.06 254.37 L732.85 257.6 L735.71 260.95 L738.66 264.4 L741.75 267.93 L745 271.5 L748.42 275.09 L751.98 278.71 L755.67 282.41 L759.49 286.21 L763.4 290.16 L767.4 294.3 L771.76 298.92 L776.55 304.06 L781.44 309.34 L786.11 314.4 L790.24 318.88 L793.5 322.4 L795.79 324.87 L797.36 326.56 L798.38 327.66 L799.04 328.37 L799.52 328.88 L800 329.4" fill="none" stroke="#f00" stroke-width="1.6" stroke-linejoin="round"/>
<path d="M482.4 148.02H488.45M485.44 147.12V148.92M488.45 139.81H494.18M491.33 138.91V140.71M494.18 132.94H499.75M496.98 132.04V133.84M499.75 127.23H504.97M502.38 126.33V128.13M504.97 122.69H510M507.5 121.79V123.59M510 118.74H514.82M512.42 117.84V119.64M514.82 115.77H519.42M517.13 114.87V116.67M519.42 113.1H523.89M521.67 112.2V114M523.89 111.05H528.21M526.06 110.15V111.95M528.21 109.44H532.38M530.31 108.54V110.34M532.38 108.47H536.37M534.38 107.57V109.37M536.37 107.71H540.26M538.32 106.81V108.61M540.26 107.3H544.03M542.15 106.4V108.2M544.03 107.2H547.67M545.85 106.3V108.1M547.67 107.32H551.22M549.45 106.42V108.22M551.22 107.85H554.67M552.95 106.95V108.75M554.67 108.5H558.02M556.35 107.6V109.4M558.02 109.51H561.39M559.71 108.61V110.41M561.39 110.62H564.45M562.92 109.72V111.52M564.45 111.54H567.52M565.99 110.64V112.44M567.52 113.03H570.58M569.06 112.13V113.93M570.58 114.52H573.61M572.1 113.62V115.42M573.61 116H576.59M575.1 115.1V116.9M576.59 117.62H579.51M578.05 116.72V118.52M579.51 119.2H582.37M580.94 118.3V120.1M582.37 120.89H585.16M583.77 119.99V121.79M585.16 122.59H588.02M586.59 121.69V123.49M588.02 124.26H590.78M589.4 123.36V125.16M590.78 125.86H593.46M592.12 124.96V126.76M593.46 127.55H596.16M594.81 126.65V128.45M596.16 129.43H598.76M597.46 128.53V130.33M598.76 131.28H601.37M600.07 130.38V132.18M601.37 133.09H603.96M602.67 132.19V133.99M603.96 134.89H606.53M605.25 133.99V135.79M606.53 136.81H609.07M607.8 135.91V137.71M609.07 138.79H611.56M610.31 137.89V139.69M611.56 140.78H614.08M612.82 139.88V141.68M614.08 142.75H616.54M615.31 141.85V143.65M616.54 144.7H619M617.77 143.8V145.6M619 147.09H621.45M620.22 146.19V147.99M621.45 149.87H623.92M622.68 148.97V150.77M623.92 152.63H626.35M625.13 151.73V153.53M626.35 154.92H628.79M627.57 154.02V155.82M628.79 157.2H631.21M630 156.3V158.1M631.21 159.49H633.65M632.43 158.59V160.39M633.65 161.78H636.09M634.87 160.88V162.68M636.09 164.49H638.67M637.38 163.59V165.39M638.67 167.21H641.06M639.87 166.31V168.11M641.06 169.69H643.56M642.31 168.79V170.59M643.56 171.81H646.14M644.85 170.91V172.71M646.14 174.06H648.98M647.56 173.16V174.96M648.98 177.14H651.8M650.39 176.24V178.04M651.8 179.71H654.79M653.3 178.81V180.61M654.79 182.63H657.87M656.33 181.73V183.53M657.87 185.73H661.01M659.44 184.83V186.63M661.01 187.86H664.3M662.65 186.96V188.76M664.3 191.35H667.81M666.06 190.45V192.25M667.81 194.45H671.67M669.74 193.55V195.35M671.67 199.13H675.84M673.75 198.23V200.03M675.84 202.52H680.42M678.13 201.62V203.42M680.42 205.22H685.43M682.92 203.92V206.52M685.43 209.56H691.19M688.31 207.96V211.16M691.19 215.97H698.74M694.97 213.57V218.47M698.74 220.45H708.23M703.49 217.55V223.45M708.23 226.45H721.09M714.66 222.85V230.25M721.09 247.12H751.77M736.43 241.82V254.22" stroke="#440154" stroke-width="1.4" fill="none"/>
<path d="M581.2 123.8H586.96M584.08 121.8V125.9M586.96 128.8H594.53M590.74 126.8V130.9M594.53 133.6H602.1M598.32 131.6V135.7M602.1 140.4H609.68M605.89 138.4V142.5M609.68 147.5H617.25M613.47 145.5V149.6M617.25 154.4H624.83M621.04 152.4V156.5M624.83 161.3H632.4M628.62 159.3V163.4M632.4 169.2H639.98M636.19 167.2V171.3M639.98 177.8H647.55M643.77 175.6V180.1M647.55 185.1H655.13M651.34 182.9V187.4M655.13 190.7H662.7M658.92 188.3V193.2M662.7 196.75H670.28M666.49 194.25V199.35M670.28 204H677.85M674.07 201.4V206.7M677.85 210.3H685.43M681.64 207.5V213.2M685.43 219.8H693M689.22 216.8V223M693 228.3H700.58M696.79 224.5V232.5M700.58 234H708.15M704.37 230.2V239.3M708.15 238.8H730.88M719.51 233.1V243.5M730.88 260.6H746.03M738.45 252.1V272M746.03 265.8H782.76M764.4 254.9V281.5" stroke="#21918c" stroke-width="1.4" fill="none"/>
<path d="M483.07 139.8H492.03M487.55 137.8V141.9M492.02 129.3H500.98M496.5 127.3V131.4M500.97 120.1H509.93M505.45 118.1V122.2M509.92 113.2H518.88M514.4 111.2V115.3M518.88 108.8H527.83M523.35 106.8V110.9M527.82 109H536.77M532.3 107V111.1M536.77 107.5H545.73M541.25 105.5V109.6M545.73 109.2H554.68M550.2 107V111.5M554.67 110.6H563.62M559.15 108.4V112.9M563.62 113.5H572.58M568.1 111.1V116M572.57 117.5H581.52M577.05 114.9V120.2M581.52 122.6H590.48M586 119.8V125.6M590.48 129.4H599.43M594.95 126.4V132.6M599.42 137.7H608.38M603.9 134.5V141.1M608.38 146.5H617.33M612.85 143.1V150.1M617.5 158.6H635.5M625.7 155.2V162.4M635.5 174.8H653.2M644.1 171V179.2M653.2 190.7H670.7M661.1 187V197.6" stroke="#fde725" stroke-width="1.4" fill="none"/>
<path d="M483.52 148.02a1.92 1.92 0 1 0 3.84 0a1.92 1.92 0 1 0 -3.84 0zM489.41 139.81a1.92 1.92 0 1 0 3.84 0a1.92 1.92 0 1 0 -3.84 0zM495.06 132.94a1.92 1.92 0 1 0 3.84 0a1.92 1.92 0 1 0 -3.84 0zM500.46 127.23a1.92 1.92 0 1 0 3.84 0a1.92 1.92 0 1 0 -3.84 0zM505.58 122.69a1.92 1.92 0 1 0 3.84 0a1.92 1.92 0 1 0 -3.84 0zM510.5 118.74a1.92 1.92 0 1 0 3.84 0a1.92 1.92 0 1 0 -3.84 0zM515.21 115.77a1.92 1.92 0 1 0 3.84 0a1.92 1.92 0 1 0 -3.84 0zM519.75 113.1a1.92 1.92 0 1 0 3.84 0a1.92 1.92 0 1 0 -3.84 0zM524.14 111.05a1.92 1.92 0 1 0 3.84 0a1.92 1.92 0 1 0 -3.84 0zM528.39 109.44a1.92 1.92 0 1 0 3.84 0a1.92 1.92 0 1 0 -3.84 0zM532.46 108.47a1.92 1.92 0 1 0 3.84 0a1.92 1.92 0 1 0 -3.84 0zM536.4 107.71a1.92 1.92 0 1 0 3.84 0a1.92 1.92 0 1 0 -3.84 0zM540.23 107.3a1.92 1.92 0 1 0 3.84 0a1.92 1.92 0 1 0 -3.84 0zM543.93 107.2a1.92 1.92 0 1 0 3.84 0a1.92 1.92 0 1 0 -3.84 0zM547.53 107.32a1.92 1.92 0 1 0 3.84 0a1.92 1.92 0 1 0 -3.84 0zM551.03 107.85a1.92 1.92 0 1 0 3.84 0a1.92 1.92 0 1 0 -3.84 0zM554.43 108.5a1.92 1.92 0 1 0 3.84 0a1.92 1.92 0 1 0 -3.84 0zM557.79 109.51a1.92 1.92 0 1 0 3.84 0a1.92 1.92 0 1 0 -3.84 0zM561 110.62a1.92 1.92 0 1 0 3.84 0a1.92 1.92 0 1 0 -3.84 0zM564.07 111.54a1.92 1.92 0 1 0 3.84 0a1.92 1.92 0 1 0 -3.84 0zM567.14 113.03a1.92 1.92 0 1 0 3.84 0a1.92 1.92 0 1 0 -3.84 0zM570.18 114.52a1.92 1.92 0 1 0 3.84 0a1.92 1.92 0 1 0 -3.84 0zM573.18 116a1.92 1.92 0 1 0 3.84 0a1.92 1.92 0 1 0 -3.84 0zM576.13 117.62a1.92 1.92 0 1 0 3.84 0a1.92 1.92 0 1 0 -3.84 0zM579.02 119.2a1.92 1.92 0 1 0 3.84 0a1.92 1.92 0 1 0 -3.84 0zM581.85 120.89a1.92 1.92 0 1 0 3.84 0a1.92 1.92 0 1 0 -3.84 0zM584.67 122.59a1.92 1.92 0 1 0 3.84 0a1.92 1.92 0 1 0 -3.84 0zM587.48 124.26a1.92 1.92 0 1 0 3.84 0a1.92 1.92 0 1 0 -3.84 0zM590.2 125.86a1.92 1.92 0 1 0 3.84 0a1.92 1.92 0 1 0 -3.84 0zM592.89 127.55a1.92 1.92 0 1 0 3.84 0a1.92 1.92 0 1 0 -3.84 0zM595.54 129.43a1.92 1.92 0 1 0 3.84 0a1.92 1.92 0 1 0 -3.84 0zM598.15 131.28a1.92 1.92 0 1 0 3.84 0a1.92 1.92 0 1 0 -3.84 0zM600.75 133.09a1.92 1.92 0 1 0 3.84 0a1.92 1.92 0 1 0 -3.84 0zM603.33 134.89a1.92 1.92 0 1 0 3.84 0a1.92 1.92 0 1 0 -3.84 0zM605.88 136.81a1.92 1.92 0 1 0 3.84 0a1.92 1.92 0 1 0 -3.84 0zM608.39 138.79a1.92 1.92 0 1 0 3.84 0a1.92 1.92 0 1 0 -3.84 0zM610.9 140.78a1.92 1.92 0 1 0 3.84 0a1.92 1.92 0 1 0 -3.84 0zM613.39 142.75a1.92 1.92 0 1 0 3.84 0a1.92 1.92 0 1 0 -3.84 0zM615.85 144.7a1.92 1.92 0 1 0 3.84 0a1.92 1.92 0 1 0 -3.84 0zM618.3 147.09a1.92 1.92 0 1 0 3.84 0a1.92 1.92 0 1 0 -3.84 0zM620.76 149.87a1.92 1.92 0 1 0 3.84 0a1.92 1.92 0 1 0 -3.84 0zM623.21 152.63a1.92 1.92 0 1 0 3.84 0a1.92 1.92 0 1 0 -3.84 0zM625.65 154.92a1.92 1.92 0 1 0 3.84 0a1.92 1.92 0 1 0 -3.84 0zM628.08 157.2a1.92 1.92 0 1 0 3.84 0a1.92 1.92 0 1 0 -3.84 0zM630.51 159.49a1.92 1.92 0 1 0 3.84 0a1.92 1.92 0 1 0 -3.84 0zM632.95 161.78a1.92 1.92 0 1 0 3.84 0a1.92 1.92 0 1 0 -3.84 0zM635.46 164.49a1.92 1.92 0 1 0 3.84 0a1.92 1.92 0 1 0 -3.84 0zM637.95 167.21a1.92 1.92 0 1 0 3.84 0a1.92 1.92 0 1 0 -3.84 0zM640.39 169.69a1.92 1.92 0 1 0 3.84 0a1.92 1.92 0 1 0 -3.84 0zM642.93 171.81a1.92 1.92 0 1 0 3.84 0a1.92 1.92 0 1 0 -3.84 0zM645.64 174.06a1.92 1.92 0 1 0 3.84 0a1.92 1.92 0 1 0 -3.84 0zM648.47 177.14a1.92 1.92 0 1 0 3.84 0a1.92 1.92 0 1 0 -3.84 0zM651.38 179.71a1.92 1.92 0 1 0 3.84 0a1.92 1.92 0 1 0 -3.84 0zM654.41 182.63a1.92 1.92 0 1 0 3.84 0a1.92 1.92 0 1 0 -3.84 0zM657.52 185.73a1.92 1.92 0 1 0 3.84 0a1.92 1.92 0 1 0 -3.84 0zM660.73 187.86a1.92 1.92 0 1 0 3.84 0a1.92 1.92 0 1 0 -3.84 0zM664.14 191.35a1.92 1.92 0 1 0 3.84 0a1.92 1.92 0 1 0 -3.84 0zM667.82 194.45a1.92 1.92 0 1 0 3.84 0a1.92 1.92 0 1 0 -3.84 0zM671.83 199.13a1.92 1.92 0 1 0 3.84 0a1.92 1.92 0 1 0 -3.84 0zM676.21 202.52a1.92 1.92 0 1 0 3.84 0a1.92 1.92 0 1 0 -3.84 0zM681 205.22a1.92 1.92 0 1 0 3.84 0a1.92 1.92 0 1 0 -3.84 0zM686.39 209.56a1.92 1.92 0 1 0 3.84 0a1.92 1.92 0 1 0 -3.84 0zM693.05 215.97a1.92 1.92 0 1 0 3.84 0a1.92 1.92 0 1 0 -3.84 0zM701.57 220.45a1.92 1.92 0 1 0 3.84 0a1.92 1.92 0 1 0 -3.84 0zM712.74 226.45a1.92 1.92 0 1 0 3.84 0a1.92 1.92 0 1 0 -3.84 0zM734.51 247.12a1.92 1.92 0 1 0 3.84 0a1.92 1.92 0 1 0 -3.84 0z" fill="#440154"/>
<path d="M582.16 123.8a1.92 1.92 0 1 0 3.84 0a1.92 1.92 0 1 0 -3.84 0zM588.82 128.8a1.92 1.92 0 1 0 3.84 0a1.92 1.92 0 1 0 -3.84 0zM596.4 133.6a1.92 1.92 0 1 0 3.84 0a1.92 1.92 0 1 0 -3.84 0zM603.97 140.4a1.92 1.92 0 1 0 3.84 0a1.92 1.92 0 1 0 -3.84 0zM611.55 147.5a1.92 1.92 0 1 0 3.84 0a1.92 1.92 0 1 0 -3.84 0zM619.12 154.4a1.92 1.92 0 1 0 3.84 0a1.92 1.92 0 1 0 -3.84 0zM626.7 161.3a1.92 1.92 0 1 0 3.84 0a1.92 1.92 0 1 0 -3.84 0zM634.27 169.2a1.92 1.92 0 1 0 3.84 0a1.92 1.92 0 1 0 -3.84 0zM641.85 177.8a1.92 1.92 0 1 0 3.84 0a1.92 1.92 0 1 0 -3.84 0zM649.42 185.1a1.92 1.92 0 1 0 3.84 0a1.92 1.92 0 1 0 -3.84 0zM657 190.7a1.92 1.92 0 1 0 3.84 0a1.92 1.92 0 1 0 -3.84 0zM664.57 196.75a1.92 1.92 0 1 0 3.84 0a1.92 1.92 0 1 0 -3.84 0zM672.15 204a1.92 1.92 0 1 0 3.84 0a1.92 1.92 0 1 0 -3.84 0zM679.72 210.3a1.92 1.92 0 1 0 3.84 0a1.92 1.92 0 1 0 -3.84 0zM687.3 219.8a1.92 1.92 0 1 0 3.84 0a1.92 1.92 0 1 0 -3.84 0zM694.87 228.3a1.92 1.92 0 1 0 3.84 0a1.92 1.92 0 1 0 -3.84 0zM702.45 234a1.92 1.92 0 1 0 3.84 0a1.92 1.92 0 1 0 -3.84 0zM717.59 238.8a1.92 1.92 0 1 0 3.84 0a1.92 1.92 0 1 0 -3.84 0zM736.53 260.6a1.92 1.92 0 1 0 3.84 0a1.92 1.92 0 1 0 -3.84 0zM762.48 265.8a1.92 1.92 0 1 0 3.84 0a1.92 1.92 0 1 0 -3.84 0z" fill="#21918c"/>
<path d="M485.63 139.8a1.92 1.92 0 1 0 3.84 0a1.92 1.92 0 1 0 -3.84 0zM494.58 129.3a1.92 1.92 0 1 0 3.84 0a1.92 1.92 0 1 0 -3.84 0zM503.53 120.1a1.92 1.92 0 1 0 3.84 0a1.92 1.92 0 1 0 -3.84 0zM512.48 113.2a1.92 1.92 0 1 0 3.84 0a1.92 1.92 0 1 0 -3.84 0zM521.43 108.8a1.92 1.92 0 1 0 3.84 0a1.92 1.92 0 1 0 -3.84 0zM530.38 109a1.92 1.92 0 1 0 3.84 0a1.92 1.92 0 1 0 -3.84 0zM539.33 107.5a1.92 1.92 0 1 0 3.84 0a1.92 1.92 0 1 0 -3.84 0zM548.28 109.2a1.92 1.92 0 1 0 3.84 0a1.92 1.92 0 1 0 -3.84 0zM557.23 110.6a1.92 1.92 0 1 0 3.84 0a1.92 1.92 0 1 0 -3.84 0zM566.18 113.5a1.92 1.92 0 1 0 3.84 0a1.92 1.92 0 1 0 -3.84 0zM575.13 117.5a1.92 1.92 0 1 0 3.84 0a1.92 1.92 0 1 0 -3.84 0zM584.08 122.6a1.92 1.92 0 1 0 3.84 0a1.92 1.92 0 1 0 -3.84 0zM593.03 129.4a1.92 1.92 0 1 0 3.84 0a1.92 1.92 0 1 0 -3.84 0zM601.98 137.7a1.92 1.92 0 1 0 3.84 0a1.92 1.92 0 1 0 -3.84 0zM610.93 146.5a1.92 1.92 0 1 0 3.84 0a1.92 1.92 0 1 0 -3.84 0zM623.78 158.6a1.92 1.92 0 1 0 3.84 0a1.92 1.92 0 1 0 -3.84 0zM642.18 174.8a1.92 1.92 0 1 0 3.84 0a1.92 1.92 0 1 0 -3.84 0zM659.18 190.7a1.92 1.92 0 1 0 3.84 0a1.92 1.92 0 1 0 -3.84 0z" fill="#fde725"/>
</g>
<path d="M511.21 322.4v3.6M586.96 322.4v3.6M662.7 322.4v3.6M738.45 322.4v3.6M814.2 322.4v3.6M471.6 322.4h-3.6M471.6 252.65h-3.6M471.6 182.9h-3.6M471.6 113.15h-3.6M471.6 43.4h-3.6" stroke="#000" stroke-width="0.9" fill="none"/>
<path d="M471.6 322.4v2.1M481.06 322.4v2.1M488.4 322.4v2.1M494.4 322.4v2.1M499.47 322.4v2.1M503.87 322.4v2.1M507.74 322.4v2.1M534.01 322.4v2.1M547.35 322.4v2.1M556.81 322.4v2.1M564.15 322.4v2.1M570.15 322.4v2.1M575.22 322.4v2.1M579.61 322.4v2.1M583.49 322.4v2.1M609.76 322.4v2.1M623.1 322.4v2.1M632.56 322.4v2.1M639.9 322.4v2.1M645.9 322.4v2.1M650.97 322.4v2.1M655.36 322.4v2.1M659.24 322.4v2.1M685.51 322.4v2.1M698.84 322.4v2.1M708.31 322.4v2.1M715.65 322.4v2.1M721.65 322.4v2.1M726.72 322.4v2.1M731.11 322.4v2.1M734.99 322.4v2.1M761.25 322.4v2.1M774.59 322.4v2.1M784.06 322.4v2.1M791.4 322.4v2.1M797.4 322.4v2.1M802.47 322.4v2.1M806.86 322.4v2.1M810.73 322.4v2.1M471.6 301.4h-2.1M471.6 289.12h-2.1M471.6 280.41h-2.1M471.6 273.65h-2.1M471.6 268.12h-2.1M471.6 263.45h-2.1M471.6 259.41h-2.1M471.6 255.84h-2.1M471.6 231.65h-2.1M471.6 219.37h-2.1M471.6 210.66h-2.1M471.6 203.9h-2.1M471.6 198.37h-2.1M471.6 193.7h-2.1M471.6 189.66h-2.1M471.6 186.09h-2.1M471.6 161.9h-2.1M471.6 149.62h-2.1M471.6 140.9h-2.1M471.6 134.14h-2.1M471.6 128.62h-2.1M471.6 123.95h-2.1M471.6 119.91h-2.1M471.6 116.34h-2.1M471.6 92.15h-2.1M471.6 79.87h-2.1M471.6 71.15h-2.1M471.6 64.39h-2.1M471.6 58.87h-2.1M471.6 54.2h-2.1M471.6 50.16h-2.1M471.6 46.59h-2.1M471.6 22.4h-2.1" stroke="#000" stroke-width="0.65" fill="none"/>
<rect x="471.6" y="22.4" width="342.6" height="300" fill="none" stroke="#000" stroke-width="1"/>
<rect x="599.6" y="29.5" width="208.1" height="97.9" rx="2.6" ry="2.6" fill="#fff" fill-opacity="0.8" stroke="#ccc" stroke-width="1"/>
<path d="M604.5 39.2H631.4" stroke="#000" stroke-width="1.6"/>
<path d="M604.5 57.2H631.4" stroke="#f00" stroke-width="1.6"/>
<path d="M611.3 76.2H623.9M617.6 69.9V82.5" stroke="#440154" stroke-width="1.5" fill="none"/>
<circle cx="617.6" cy="76.2" r="1.85" fill="#440154"/>
<path d="M611.3 95.3H623.9M617.6 89V101.6" stroke="#21918c" stroke-width="1.5" fill="none"/>
<circle cx="617.6" cy="95.3" r="1.85" fill="#21918c"/>
<path d="M611.3 114.7H623.9M617.6 108.4V121" stroke="#fde725" stroke-width="1.5" fill="none"/>
<circle cx="617.6" cy="114.7" r="1.85" fill="#fde725"/>
<text x="641.7" y="44.2" font-size="14.2" textLength="52.8" lengthAdjust="spacingAndGlyphs">2D model</text>
<text x="641.7" y="62.2" font-size="14.2" textLength="52.8" lengthAdjust="spacingAndGlyphs">3D model</text>
<text x="641.7" y="81.2" font-size="14.2" textLength="39.6" lengthAdjust="spacingAndGlyphs">AMS02</text>
<text x="687.2" y="81.2" font-size="14.2" textLength="101.6" lengthAdjust="spacingAndGlyphs">(2011/05-2021/05)</text>
<text x="641.7" y="100.3" font-size="14.2" textLength="41.9" lengthAdjust="spacingAndGlyphs">CALET</text>
<text x="689.4" y="100.3" font-size="14.2" textLength="101.6" lengthAdjust="spacingAndGlyphs">(2015/10-2022/02)</text>
<text x="641.7" y="119.7" font-size="14.2" textLength="53.0" lengthAdjust="spacingAndGlyphs">PAMELA</text>
<text x="700.2" y="119.7" font-size="14.2" textLength="101.6" lengthAdjust="spacingAndGlyphs">(2006/07-2008/03)</text>
<text x="190.6" y="17.7" font-size="14.4" textLength="83" lengthAdjust="spacingAndGlyphs">Total Carbon</text>
<text x="605.6" y="17.7" font-size="14.4" textLength="74.6" lengthAdjust="spacingAndGlyphs">Total Boron</text>
<text x="36" y="28.25" font-size="14.3">10</text>
<text x="49.8" y="23.05" font-size="10">1</text>
<text x="36" y="139.37" font-size="14.3">10</text>
<text x="50.6" y="134.17" font-size="10">0</text>
<text x="27" y="250.48" font-size="14.3">10</text>
<text x="41.9" y="244.68" font-size="10" textLength="7.0" lengthAdjust="spacingAndGlyphs">−</text>
<text x="49" y="245.28" font-size="10">1</text>
<text x="446.2" y="49.15" font-size="14.3">10</text>
<text x="460" y="43.95" font-size="10">1</text>
<text x="446.2" y="118.9" font-size="14.3">10</text>
<text x="460.8" y="113.7" font-size="10">0</text>
<text x="437.2" y="188.65" font-size="14.3">10</text>
<text x="452.1" y="182.85" font-size="10" textLength="7.0" lengthAdjust="spacingAndGlyphs">−</text>
<text x="459.2" y="183.45" font-size="10">1</text>
<text x="437.2" y="258.4" font-size="14.3">10</text>
<text x="452.1" y="252.6" font-size="10" textLength="7.0" lengthAdjust="spacingAndGlyphs">−</text>
<text x="459.1" y="253.2" font-size="10">2</text>
<text x="437.2" y="328.15" font-size="14.3">10</text>
<text x="452.1" y="322.35" font-size="10" textLength="7.0" lengthAdjust="spacingAndGlyphs">−</text>
<text x="459.1" y="322.95" font-size="10">3</text>
<text x="90.63" y="339.6" font-size="14.3">10</text>
<text x="105.23" y="334.4" font-size="10">0</text>
<text x="166.34" y="339.6" font-size="14.3">10</text>
<text x="180.14" y="334.4" font-size="10">1</text>
<text x="242.04" y="339.6" font-size="14.3">10</text>
<text x="256.64" y="334.4" font-size="10">2</text>
<text x="317.75" y="339.6" font-size="14.3">10</text>
<text x="332.35" y="334.4" font-size="10">3</text>
<text x="393.45" y="339.6" font-size="14.3">10</text>
<text x="408.05" y="334.4" font-size="10">4</text>
<text x="501.26" y="339.6" font-size="14.3">10</text>
<text x="515.86" y="334.4" font-size="10">0</text>
<text x="577.01" y="339.6" font-size="14.3">10</text>
<text x="590.81" y="334.4" font-size="10">1</text>
<text x="652.75" y="339.6" font-size="14.3">10</text>
<text x="667.35" y="334.4" font-size="10">2</text>
<text x="728.5" y="339.6" font-size="14.3">10</text>
<text x="743.1" y="334.4" font-size="10">3</text>
<text x="804.25" y="339.6" font-size="14.3">10</text>
<text x="818.85" y="334.4" font-size="10">4</text>
<text x="188.25" y="358" font-size="14.6" font-style="italic" textLength="10.3" lengthAdjust="spacingAndGlyphs">E</text>
<text x="198.45" y="359.6" font-size="10.6" textLength="13.7" lengthAdjust="spacingAndGlyphs">kin</text>
<text x="217.85" y="358" font-size="14.2" textLength="10.9" lengthAdjust="spacingAndGlyphs">in</text>
<text x="233.95" y="358" font-size="14.2" textLength="25.2" lengthAdjust="spacingAndGlyphs">GeV</text>
<text x="259.75" y="359.7" font-size="16.4" textLength="7.6" lengthAdjust="spacingAndGlyphs" fill="#555">/</text>
<text x="268.15" y="358" font-size="14.2" textLength="8.5" lengthAdjust="spacingAndGlyphs">n</text>
<text x="598.7" y="358" font-size="14.6" font-style="italic" textLength="10.3" lengthAdjust="spacingAndGlyphs">E</text>
<text x="608.9" y="359.6" font-size="10.6" textLength="13.7" lengthAdjust="spacingAndGlyphs">kin</text>
<text x="628.3" y="358" font-size="14.2" textLength="10.9" lengthAdjust="spacingAndGlyphs">in</text>
<text x="644.4" y="358" font-size="14.2" textLength="25.2" lengthAdjust="spacingAndGlyphs">GeV</text>
<text x="670.2" y="359.7" font-size="16.4" textLength="7.6" lengthAdjust="spacingAndGlyphs" fill="#555">/</text>
<text x="678.6" y="358" font-size="14.2" textLength="8.5" lengthAdjust="spacingAndGlyphs">n</text>
<g transform="translate(19.2 287) rotate(-90)">
<text x="0.2" y="0" font-size="14.6" font-style="italic" textLength="9.6" lengthAdjust="spacingAndGlyphs">E</text>
<text x="10.6" y="-7.2" font-size="10">2</text>
<text x="9.9" y="4.6" font-size="10.4" textLength="13.4" lengthAdjust="spacingAndGlyphs">kin</text>
<text x="25" y="0" font-size="14.6" font-style="italic" textLength="8.2" lengthAdjust="spacingAndGlyphs">J</text>
<text x="34" y="0.9" font-size="15.6">(</text>
<text x="39.8" y="0" font-size="14.6" font-style="italic" textLength="9.6" lengthAdjust="spacingAndGlyphs">E</text>
<text x="49.8" y="2.2" font-size="10.4" textLength="13.4" lengthAdjust="spacingAndGlyphs">kin</text>
<text x="64.6" y="0.9" font-size="15.6">)</text>
<text x="75.6" y="0" font-size="14.2" textLength="10.6" lengthAdjust="spacingAndGlyphs">in</text>
<text x="92.9" y="0.9" font-size="15.6">(</text>
<text x="98.5" y="0" font-size="14.2" textLength="24.9" lengthAdjust="spacingAndGlyphs">GeV</text>
<text x="123.4" y="1.7" font-size="16.4" textLength="8.0" lengthAdjust="spacingAndGlyphs">/</text>
<text x="131.8" y="0" font-size="14.2" textLength="7.5" lengthAdjust="spacingAndGlyphs">n</text>
<text x="140.3" y="0.9" font-size="15.6">)</text>
<text x="151.8" y="0" font-size="14.2" textLength="11.2" lengthAdjust="spacingAndGlyphs">m</text>
<text x="164.6" y="-6.6" font-size="10" textLength="7.0" lengthAdjust="spacingAndGlyphs">−</text>
<text x="171.9" y="-6.2" font-size="10">2</text>
<text x="181.7" y="0" font-size="14.2">s</text>
<text x="187.9" y="-6.6" font-size="10" textLength="7.0" lengthAdjust="spacingAndGlyphs">−</text>
<text x="195.5" y="-6.2" font-size="10">1</text>
<text x="206.6" y="0" font-size="14.2" textLength="9.6" lengthAdjust="spacingAndGlyphs">sr</text>
<text x="217.3" y="-6.6" font-size="10" textLength="7.0" lengthAdjust="spacingAndGlyphs">−</text>
<text x="225.3" y="-6.2" font-size="10">1</text>
</g>
</svg>
</body></html>
